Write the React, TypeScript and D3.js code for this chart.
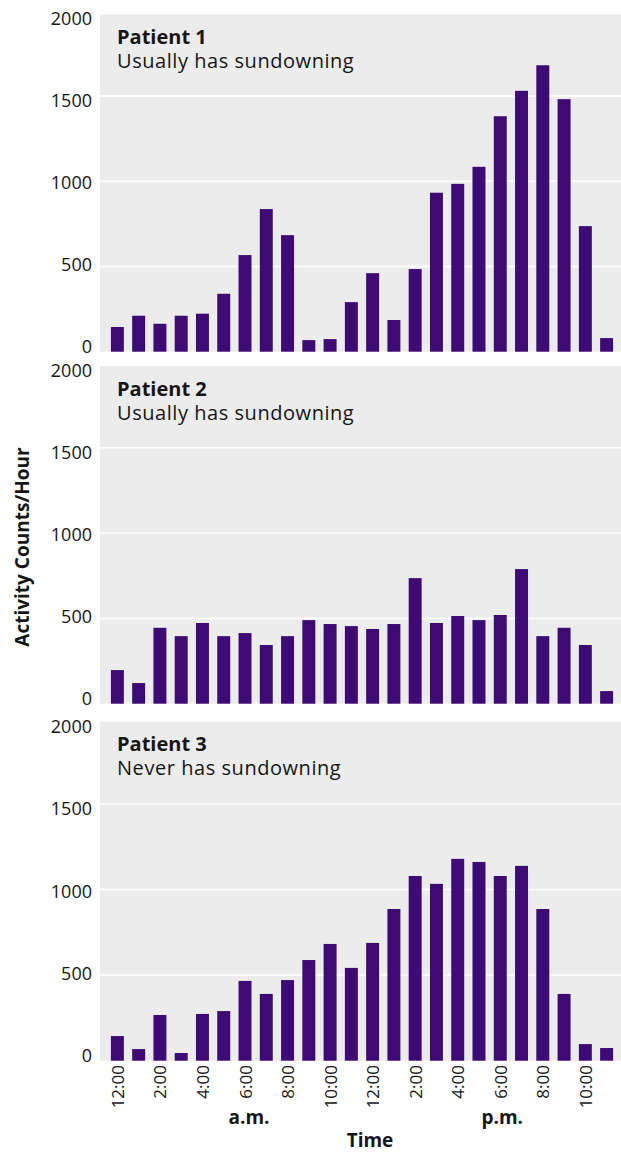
import React from "react";
import * as d3 from "d3";

// Hourly activity counts, midnight through 11 p.m.
const hours: number[] = d3.range(24);
const patient1: number[] = [145, 211, 164, 211, 223, 340, 567, 837, 684, 68, 74, 291, 461, 186, 485, 933, 985, 1085, 1382, 1531, 1681, 1482, 737, 80];
const patient2: number[] = [197, 121, 445, 396, 473, 396, 414, 344, 396, 490, 467, 455, 438, 467, 736, 473, 514, 490, 520, 789, 396, 445, 344, 74];
const patient3: number[] = [144, 68, 267, 45, 273, 290, 466, 390, 471, 588, 682, 542, 688, 886, 1079, 1033, 1179, 1161, 1079, 1138, 886, 390, 97, 74];

const panelTitles: string[] = ["Patient 1", "Patient 2", "Patient 3"];
const panelSubtitles: string[] = ["Usually has sundowning", "Usually has sundowning", "Never has sundowning"];
const yTicks: number[] = [0, 500, 1000, 1500, 2000];
const xTickHours: number[] = [0, 2, 4, 6, 8, 10, 12, 14, 16, 18, 20, 22];
const xTickLabels: string[] = ["12:00", "2:00", "4:00", "6:00", "8:00", "10:00", "12:00", "2:00", "4:00", "6:00", "8:00", "10:00"];

const series = [patient1, patient2, patient3];

const W = 621;
const H = 1152;
const FONT = "'Open Sans', 'Noto Sans', sans-serif";
const BAR = "#3d0b73";
const PANEL_BG = "#ececec";
const INK = "#161616";

// vertical placement of each panel: pixel of 2000 and of 0
const panelTop = [10.9, 362.5, 718.3];
const panelZero = [351.7, 703.7, 1060.7];

const plotLeft = 100;
const x = d3.scaleBand<number>().domain(hours).range([102.6, 621.4]).paddingInner(0.39).paddingOuter(0.39);

export default function App() {
  return (
    <svg width={W} height={H} style={{ position: "absolute", left: 0, top: 0, background: "#fff" }} fontFamily={FONT}>
      {series.map((vals, p) => {
        const y = d3.scaleLinear().domain([0, 2000]).range([panelZero[p], panelTop[p]]);
        const yLab = d3.scaleLinear().domain([0, 2000]).range([panelZero[p] - 5.5, panelTop[p] + 7.5]);
        return (
          <g key={p}>
            <rect x={plotLeft} y={panelTop[p] + 3.5} width={W - plotLeft} height={panelZero[p] - panelTop[p] - 3.5} fill={PANEL_BG} />
            {yTicks.slice(1, 4).map((t) => (
              <line key={t} x1={plotLeft} x2={W} y1={y(t)} y2={y(t)} stroke="#fff" strokeWidth={1.5} />
            ))}
            {vals.map((v, i) => (
              <rect key={i} x={x(i)} y={y(v)} width={x.bandwidth()} height={y(0) - y(v)} fill={BAR} />
            ))}
            {yTicks.map((t) => (
              <text key={t} x={92} y={yLab(t)} textAnchor="end" dominantBaseline="central" fontSize={18} fill={INK}>
                {t}
              </text>
            ))}
            <text x={117} y={panelTop[p] + 33} fontSize={20} fill={INK}>
              <tspan fontWeight="bold">{panelTitles[p]}</tspan>
              <tspan x={117} dy={24} letterSpacing={0.55}>
                {panelSubtitles[p]}
              </tspan>
            </text>
          </g>
        );
      })}
      {xTickHours.map((h, k) => (
        <text
          key={k}
          transform={`translate(${x(h)! + x.bandwidth() / 2},1065) rotate(-90)`}
          textAnchor="end"
          dominantBaseline="central"
          fontSize={17}
          fill={INK}
        >
          {xTickLabels[k]}
        </text>
      ))}
      <text x={x(6)! + x.bandwidth() / 2 + 4} y={1124} textAnchor="middle" fontSize={19} fontWeight="bold" fill={INK}>
        a.m.
      </text>
      <text x={x(18)! + x.bandwidth() / 2 + 2} y={1124} textAnchor="middle" fontSize={19} fontWeight="bold" fill={INK}>
        p.m.
      </text>
      <text x={370} y={1147} textAnchor="middle" fontSize={19} fontWeight="bold" fill={INK}>
        Time
      </text>
      <text transform="translate(22,547) rotate(-90)" textAnchor="middle" dominantBaseline="central" fontSize={19} fontWeight="bold" fill={INK}>
        Activity Counts/Hour
      </text>
    </svg>
  );
}
